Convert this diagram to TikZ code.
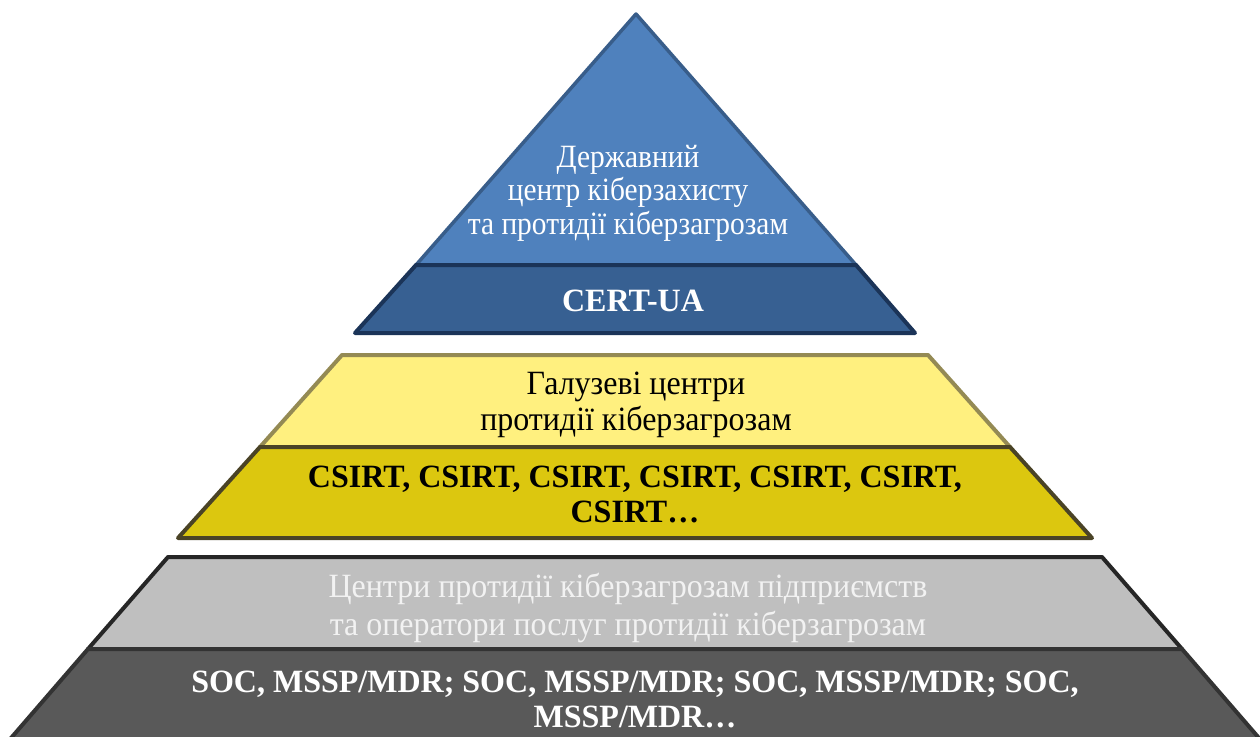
\documentclass[tikz,border=0pt]{standalone}
\usepackage{fontspec}
\setmainfont{Liberation Serif}
\newfontfamily\regfont[FakeStretch=0.905]{Liberation Serif}
\newfontfamily\widefont[FakeStretch=0.94]{Liberation Serif}
\newfontfamily\boldfont[FakeStretch=0.985]{Liberation Serif Bold}
\definecolor{blueA}{HTML}{4F81BD}
\definecolor{blueAline}{HTML}{385D8A}
\definecolor{blueB}{HTML}{376092}
\definecolor{blueBline}{HTML}{1B3458}
\definecolor{yelA}{HTML}{FFF07F}
\definecolor{yelAline}{HTML}{948A54}
\definecolor{yelB}{HTML}{DCC70F}
\definecolor{yelBline}{HTML}{4A4326}
\definecolor{grayA}{HTML}{BFBFBF}
\definecolor{grayAline}{HTML}{262626}
\definecolor{grayB}{HTML}{595959}
\definecolor{grayBline}{HTML}{333333}
\definecolor{grayText}{HTML}{F2F2F2}
\tikzset{
  tier/.style={line width=4pt, line join=round},
  lbl/.style={align=center, inner sep=0pt, font=\regfont\fontsize{32.5}{33.5}\selectfont},
  wlbl/.style={align=center, inner sep=0pt, font=\widefont\fontsize{34}{36}\selectfont},
  blbl/.style={align=center, inner sep=0pt, font=\boldfont\fontsize{32.5}{35}\selectfont},
}
\begin{document}
\begin{tikzpicture}[x=1pt,y=-1pt]
\useasboundingbox (0,0) rectangle (1260,736);
% top level
\filldraw[tier, fill=blueA, draw=blueAline, line width=3.5pt] (636,14) -- (856,265) -- (416,265) -- cycle;
\filldraw[tier, fill=blueB, draw=blueBline] (416,265) -- (856,265) -- (915,333) -- (355,333) -- cycle;
% middle level
\filldraw[tier, fill=yelA, draw=yelAline] (342,355) -- (928,355) -- (1010,447) -- (260,447) -- cycle;
\filldraw[tier, fill=yelB, draw=yelBline] (260,447) -- (1010,447) -- (1092,538) -- (178,538) -- cycle;
% bottom level
\filldraw[tier, fill=grayA, draw=grayAline] (168,557) -- (1102,557) -- (1182,649) -- (88,649) -- cycle;
\filldraw[tier, fill=grayB, draw=grayBline] (88,649) -- (1182,649) -- (1265,745) -- (5,745) -- cycle;
% texts
\node[lbl, text=white] (state) at (628,193) {Державний\\центр кіберзахисту\\та протидії кіберзагрозам};
\node[blbl, text=white] (cert) at (633,301) {CERT-UA};
\node[wlbl, text=black] (branch) at (636,405) {Галузеві центри\\протидії кіберзагрозам};
\node[blbl, text=black] (csirt) at (635,494) {CSIRT, CSIRT, CSIRT, CSIRT, CSIRT, CSIRT,\\CSIRT…};
\node[wlbl, text=grayText, font=\widefont\fontsize{34}{38}\selectfont] (ent) at (628,608) {Центри протидії кіберзагрозам підприємств\\та оператори послуг протидії кіберзагрозам};
\node[blbl, text=white] (soc) at (635,699) {SOC, MSSP/MDR; SOC, MSSP/MDR; SOC, MSSP/MDR; SOC,\\MSSP/MDR…};
\end{tikzpicture}
\end{document}
